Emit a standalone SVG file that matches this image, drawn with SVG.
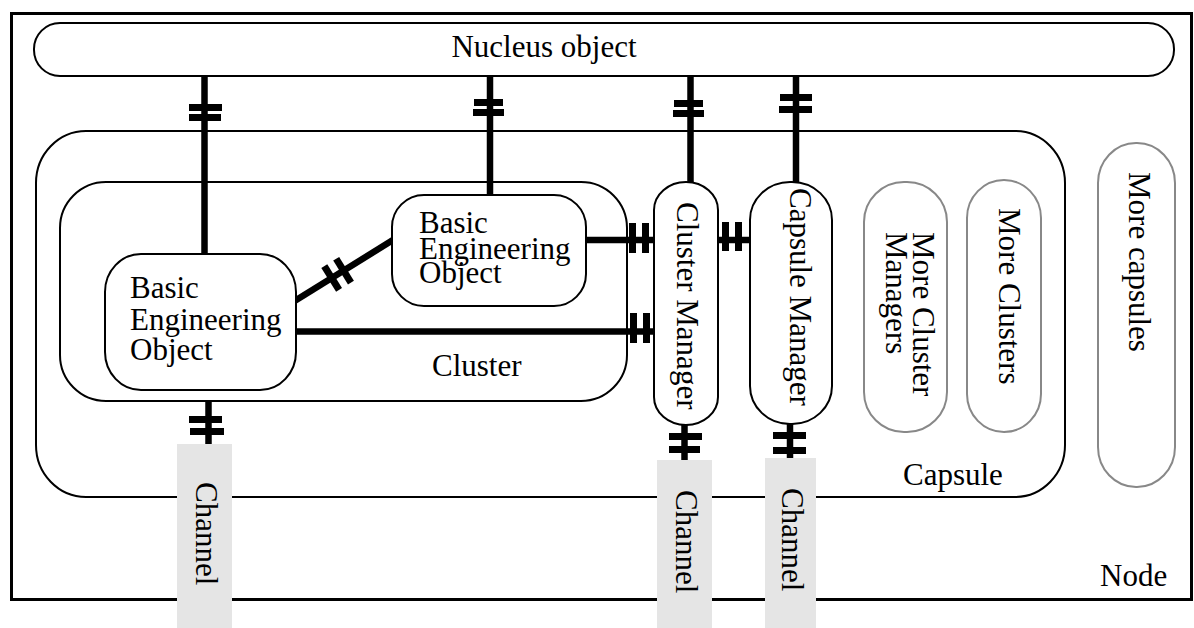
<svg xmlns="http://www.w3.org/2000/svg" width="1194" height="628" viewBox="0 0 1194 628">
<defs>
<style>
.t{font-family:"Liberation Serif","Times New Roman",serif;font-size:31px;fill:#000}
.box{fill:#fff;stroke:#000;stroke-width:2}
.gbox{fill:#fff;stroke:#888;stroke-width:2}
.ch{fill:#e5e5e5;stroke:none}
.ln{stroke:#000;stroke-width:6.5;fill:none}
.bar{fill:#000}
</style>
</defs>
<rect width="1194" height="628" fill="#fff"/>
<g id="node">
<rect x="11.5" y="13.5" width="1180" height="586" fill="none" stroke="#000" stroke-width="3"/>
<text class="t" x="1100" y="586">Node</text>
</g>
<g id="capsule">
<rect class="box" x="36" y="131" width="1029" height="366" rx="50" ry="52"/>
<text class="t" x="903" y="485">Capsule</text>
</g>
<g id="cluster">
<rect class="box" x="60" y="182" width="567" height="219" rx="46" ry="46"/>
<text class="t" x="432" y="376">Cluster</text>
</g>
<g id="connectors">
<line class="ln" x1="204.5" y1="76" x2="204.5" y2="254"/>
<rect class="bar" x="189" y="104" width="33" height="7"/>
<rect class="bar" x="189" y="114" width="32" height="7"/>
<line class="ln" x1="490" y1="76" x2="490" y2="195"/>
<rect class="bar" x="474" y="99" width="29" height="7"/>
<rect class="bar" x="473" y="109" width="31" height="7"/>
<line class="ln" x1="690.5" y1="76" x2="690.5" y2="182"/>
<rect class="bar" x="674" y="100" width="29" height="7"/>
<rect class="bar" x="673" y="110" width="31" height="7"/>
<line class="ln" x1="796" y1="76" x2="796" y2="182"/>
<rect class="bar" x="780" y="94" width="32" height="7"/>
<rect class="bar" x="779" y="106" width="33" height="7"/>
<g transform="translate(293,302) rotate(-31.8)">
<line class="ln" x1="0" y1="0" x2="118" y2="0"/>
<rect class="bar" x="42" y="-14" width="7" height="28"/>
<rect class="bar" x="56" y="-14" width="7" height="28"/>
</g>
<line class="ln" x1="585" y1="240" x2="654" y2="240"/>
<rect class="bar" x="629" y="223" width="7" height="30"/>
<rect class="bar" x="642" y="223" width="7" height="30"/>
<line class="ln" x1="296" y1="331.5" x2="654" y2="331.5"/>
<rect class="bar" x="630" y="313" width="7" height="30"/>
<rect class="bar" x="643" y="313" width="7" height="30"/>
<line class="ln" x1="718" y1="240" x2="750" y2="240"/>
<rect class="bar" x="722" y="222" width="7" height="29"/>
<rect class="bar" x="735" y="222" width="7" height="29"/>
<line class="ln" x1="208.5" y1="400" x2="208.5" y2="444"/>
<rect class="bar" x="189" y="416" width="33" height="7"/>
<rect class="bar" x="190" y="428" width="34" height="7"/>
<line class="ln" x1="684.5" y1="425" x2="684.5" y2="460"/>
<rect class="bar" x="669" y="433" width="33" height="7"/>
<rect class="bar" x="669" y="446" width="31" height="7"/>
<line class="ln" x1="790" y1="423" x2="790" y2="458"/>
<rect class="bar" x="773" y="432" width="33" height="7"/>
<rect class="bar" x="773" y="447" width="33" height="7"/>
</g>
<g id="nucleus">
<rect class="box" x="34" y="23" width="1140" height="53" rx="26" ry="26"/>
<text class="t" x="544" y="57" text-anchor="middle">Nucleus object</text>
</g>
<g id="beo1">
<rect class="box" x="105" y="254" width="191" height="136" rx="36" ry="38"/>
<text class="t" x="130" y="298">Basic</text>
<text class="t" x="130" y="330">Engineering</text>
<text class="t" x="130" y="360">Object</text>
</g>
<g id="beo2">
<rect class="box" x="392" y="195" width="194" height="111" rx="32" ry="32"/>
<text class="t" x="419" y="233">Basic</text>
<text class="t" x="419" y="259">Engineering</text>
<text class="t" x="419" y="283">Object</text>
</g>
<g id="cluster-manager">
<rect class="box" x="654" y="182" width="64" height="243" rx="32" ry="28"/>
<text class="t" transform="translate(677,202) rotate(90)">Cluster Manager</text>
</g>
<g id="capsule-manager">
<rect class="box" x="750" y="182" width="82" height="242" rx="40" ry="38"/>
<text class="t" transform="translate(790,188) rotate(90)">Capsule Manager</text>
</g>
<g id="more-cluster-managers">
<rect class="gbox" x="864" y="182" width="83" height="250" rx="40" ry="40"/>
<text class="t" transform="translate(913,232) rotate(90)">More Cluster</text>
<text class="t" transform="translate(886,232) rotate(90)">Managers</text>
</g>
<g id="more-clusters">
<rect class="gbox" x="967" y="180" width="74" height="252" rx="37" ry="38"/>
<text class="t" transform="translate(999,208) rotate(90)">More Clusters</text>
</g>
<g id="more-capsules">
<rect class="gbox" x="1098" y="143" width="77" height="344" rx="38" ry="40"/>
<text class="t" transform="translate(1129,172) rotate(90)">More capsules</text>
</g>
<g id="channel1">
<rect class="ch" x="177" y="444" width="55" height="184"/>
<text class="t" transform="translate(196,482) rotate(90)">Channel</text>
</g>
<g id="channel2">
<rect class="ch" x="657" y="460" width="55" height="168"/>
<text class="t" transform="translate(676,490) rotate(90)">Channel</text>
</g>
<g id="channel3">
<rect class="ch" x="765" y="458" width="51" height="170"/>
<text class="t" transform="translate(782,488) rotate(90)">Channel</text>
</g>
</svg>
